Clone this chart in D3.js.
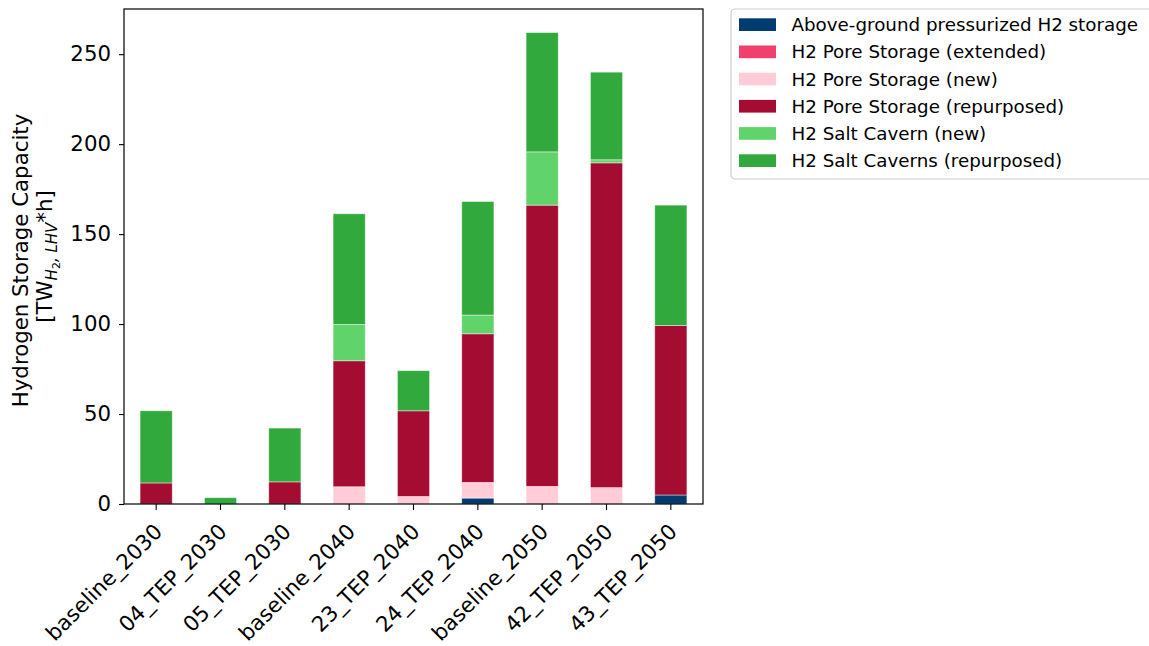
<!DOCTYPE html>
<html>
<head>
<meta charset="utf-8">
<script src="https://cdn.jsdelivr.net/npm/d3@7"></script>
<style>
  html, body { margin: 0; padding: 0; background: #fff; }
  svg { display: block; font-family: "DejaVu Sans", sans-serif; }
</style>
</head>
<body>
<svg id="chart" width="1149" height="646"></svg>
<script>
// Scenarios on the x axis
const scenarios = ["baseline_2030", "04_TEP_2030", "05_TEP_2030", "baseline_2040", "23_TEP_2040",
                   "24_TEP_2040", "baseline_2050", "42_TEP_2050", "43_TEP_2050"];

// Storage technologies, stacked bottom to top
const technologies = ["Above-ground pressurized H2 storage", "H2 Pore Storage (extended)",
                      "H2 Pore Storage (new)", "H2 Pore Storage (repurposed)",
                      "H2 Salt Cavern (new)", "H2 Salt Caverns (repurposed)"];

// Capacity per technology and scenario, TWh (H2, LHV)
const aboveGround      = [0,    0,   0,    0,    0,    3.3,  0,     0,     5.0];
const poreExtended     = [0,    0,   0,    0,    0,    0,    0,     0,     0];
const poreNew          = [0,    0,   0,    9.6,  4.2,  8.7,  9.8,   9.1,   0];
const poreRepurposed   = [11.7, 0,   12.3, 70.0, 47.6, 82.6, 156.3, 180.5, 94.2];
const saltNew          = [0,    0,   0,    20.2, 0,    10.4, 29.6,  1.7,   0];
const saltRepurposed   = [40.1, 3.5, 29.9, 61.5, 22.3, 63.1, 66.3,  48.7,  66.9];

const yTicks = [0, 50, 100, 150, 200, 250];

const colors = ["#003b6f", "#f0406b", "#ffccd8", "#a50c32", "#60d46b", "#32a93c"];

const seriesValues = [aboveGround, poreExtended, poreNew, poreRepurposed, saltNew, saltRepurposed];

// Build row objects for d3.stack
const rows = scenarios.map((s, i) => {
  const r = { scenario: s };
  technologies.forEach((t, k) => { r[t] = seriesValues[k][i]; });
  return r;
});

const stacked = d3.stack().keys(technologies)(rows);
const maxTotal = d3.max(rows, r => d3.sum(technologies, t => r[t]));

const margin = { left: 124, right: 703, top: 9, bottom: 504 };
const svg = d3.select("#chart");

const x = d3.scaleBand()
  .domain(scenarios)
  .range([margin.left, margin.right])
  .paddingInner(0.5)
  .paddingOuter(0.25);

const y = d3.scaleLinear()
  .domain([0, maxTotal * 1.05])
  .range([margin.bottom, margin.top]);

// Bars
const layers = svg.append("g").selectAll("g")
  .data(stacked)
  .join("g")
  .attr("fill", (d, i) => colors[i]);

layers.selectAll("rect")
  .data(d => d.map(p => ({ p, key: d.key })))
  .join("rect")
  .filter(d => d.p[1] - d.p[0] > 0)
  .attr("x", d => x(d.p.data.scenario))
  .attr("width", x.bandwidth())
  .attr("y", d => y(d.p[1]))
  .attr("height", d => y(d.p[0]) - y(d.p[1]))
  .attr("stroke", "#ffffff")
  .attr("stroke-opacity", 0.55)
  .attr("stroke-width", 0.8);

// Axes
const fontSize = 21.3;

const yAxis = svg.append("g")
  .attr("transform", `translate(${margin.left},0)`)
  .call(d3.axisLeft(y).tickValues(yTicks).tickSize(5).tickPadding(8).tickFormat(d3.format("d")));
yAxis.select(".domain").remove();
yAxis.selectAll("line").attr("stroke", "#000").attr("stroke-width", 1.1);
yAxis.selectAll("text").attr("font-size", fontSize).attr("fill", "#000")
  .attr("font-family", "DejaVu Sans");

const xAxis = svg.append("g")
  .attr("transform", `translate(0,${margin.bottom})`)
  .call(d3.axisBottom(x).tickSize(6).tickFormat(d => d));
xAxis.select(".domain").remove();
xAxis.selectAll("line").attr("stroke", "#000").attr("stroke-width", 1.1);
xAxis.selectAll("text")
  .attr("font-size", fontSize)
  .attr("font-family", "DejaVu Sans")
  .attr("fill", "#000")
  .attr("text-anchor", "end")
  .attr("dy", null)
  .attr("y", null)
  .attr("transform", "translate(7.5,29) rotate(-45)");

// Frame
svg.append("rect")
  .attr("x", margin.left)
  .attr("y", margin.top)
  .attr("width", margin.right - margin.left)
  .attr("height", margin.bottom - margin.top)
  .attr("fill", "none")
  .attr("stroke", "#000")
  .attr("stroke-width", 1.2);

// Y axis title (two lines)
const cy = (margin.top + margin.bottom) / 2;
svg.append("text")
  .attr("transform", `translate(27.7,${cy + 4}) rotate(-90)`)
  .attr("text-anchor", "middle")
  .attr("font-size", fontSize)
  .attr("fill", "#000")
  .text("Hydrogen Storage Capacity");

const unit = svg.append("text")
  .attr("transform", `translate(52,${cy}) rotate(-90)`)
  .attr("text-anchor", "middle")
  .attr("font-size", fontSize)
  .attr("fill", "#000");
unit.append("tspan").text("[TW");
unit.append("tspan").attr("font-size", 15).attr("font-style", "italic").attr("dy", 5).text("H");
unit.append("tspan").attr("font-size", 11).attr("dy", 3).text("2");
unit.append("tspan").attr("font-size", 15).attr("font-style", "italic").attr("dy", -3).text(", LHV");
unit.append("tspan").attr("dy", -5).text("*h]");

// Legend
const legend = svg.append("g");
legend.append("rect")
  .attr("x", 731).attr("y", 9)
  .attr("width", 430).attr("height", 170)
  .attr("rx", 4)
  .attr("fill", "#fff")
  .attr("fill-opacity", 0.8)
  .attr("stroke", "#cccccc")
  .attr("stroke-width", 1.2);

const items = legend.selectAll("g.item")
  .data(technologies)
  .join("g")
  .attr("class", "item")
  .attr("transform", (d, i) => `translate(739,${18.3 + i * 27.2})`);

items.append("rect")
  .attr("width", 37).attr("height", 12.7)
  .attr("fill", (d, i) => colors[i]);

items.append("text")
  .attr("x", 52.5)
  .attr("y", 6.5)
  .attr("dy", "0.35em")
  .attr("font-size", 18.3)
  .attr("fill", "#000")
  .text(d => d);
</script>
</body>
</html>
